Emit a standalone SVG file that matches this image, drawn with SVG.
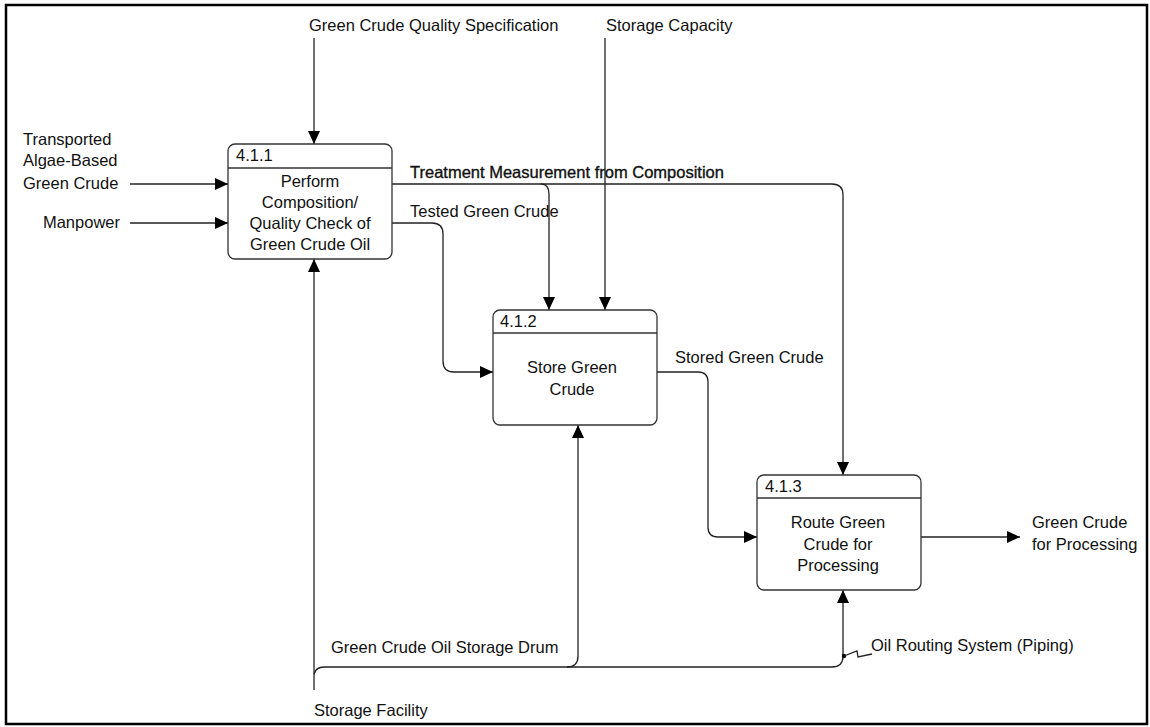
<svg xmlns="http://www.w3.org/2000/svg" width="1150" height="727" viewBox="0 0 1150 727">
<style>
text{font-family:"Liberation Sans",Arial,sans-serif;font-size:16.5px;fill:#111}
.c{text-anchor:middle}
.bd{stroke:#111;stroke-width:0.35}
.box{fill:#fff;stroke:#333;stroke-width:1.3}
.hdr{stroke:#333;stroke-width:1.3}
.ln{fill:none;stroke:#222;stroke-width:1.3}
</style>
<defs>
<marker id="ah" markerWidth="13" markerHeight="12" refX="13" refY="6" orient="auto" markerUnits="userSpaceOnUse">
<path d="M0,0 L13,6 L0,12 Z" fill="#000"/>
</marker>
</defs>
<rect x="6" y="5" width="1141" height="719" fill="#fff" stroke="#000" stroke-width="2.5"/>

<g id="connectors">
<path class="ln" d="M314,38 V144" marker-end="url(#ah)"/>
<path class="ln" d="M605,38 V310" marker-end="url(#ah)"/>
<path class="ln" d="M130,184 H228" marker-end="url(#ah)"/>
<path class="ln" d="M130,223 H228" marker-end="url(#ah)"/>
<path class="ln" d="M392,184 H832 Q843,184 843,195 V475" marker-end="url(#ah)"/>
<path class="ln" d="M541,184 Q549,184 549,194 V310" marker-end="url(#ah)"/>
<path class="ln" d="M392,223 H432 Q443,223 443,234 V361 Q443,372 454,372 H493" marker-end="url(#ah)"/>
<path class="ln" d="M657,372 H698 Q708,372 708,382 V527 Q708,537 718,537 H757" marker-end="url(#ah)"/>
<path class="ln" d="M921,537 H1020" marker-end="url(#ah)"/>
<path class="ln" d="M314,690 V259" marker-end="url(#ah)"/>
<path class="ln" d="M314,674 Q316,667 324,667 H832 Q843,667 843,656 V590" marker-end="url(#ah)"/>
<path class="ln" d="M567,667 Q578,667 578,656 V425" marker-end="url(#ah)"/>
<circle cx="844" cy="656" r="2.2" fill="#000"/>
<path class="ln" d="M844,656 L857,651 L858,657 L872,654"/>
</g>

<g id="node-411">
<rect class="box" x="228" y="144" width="164" height="115" rx="7"/>
<line class="hdr" x1="228" y1="168" x2="392" y2="168"/>
<text x="236" y="161">4.1.1</text>
<text class="c" x="310" y="187">Perform</text>
<text class="c" x="310" y="208">Composition/</text>
<text class="c" x="310" y="229">Quality Check of</text>
<text class="c" x="310" y="250">Green Crude Oil</text>
</g>

<g id="node-412">
<rect class="box" x="493" y="310" width="164" height="115" rx="7"/>
<line class="hdr" x1="493" y1="333" x2="657" y2="333"/>
<text x="500" y="327">4.1.2</text>
<text class="c" x="572" y="373">Store Green</text>
<text class="c" x="572" y="395">Crude</text>
</g>

<g id="node-413">
<rect class="box" x="757" y="475" width="164" height="115" rx="7"/>
<line class="hdr" x1="757" y1="498" x2="921" y2="498"/>
<text x="765" y="492">4.1.3</text>
<text class="c" x="838" y="528">Route Green</text>
<text class="c" x="838" y="550">Crude for</text>
<text class="c" x="838" y="571">Processing</text>
</g>

<g id="labels">
<text x="309" y="31">Green Crude Quality Specification</text>
<text x="606" y="31">Storage Capacity</text>
<text x="23" y="145">Transported</text>
<text x="23" y="166">Algae-Based</text>
<text x="23" y="189">Green Crude</text>
<text x="120" y="228" text-anchor="end">Manpower</text>
<text class="bd" x="410" y="178">Treatment Measurement from Composition</text>
<text x="410" y="217">Tested Green Crude</text>
<text x="675" y="363">Stored Green Crude</text>
<text x="1032" y="528">Green Crude</text>
<text x="1032" y="550">for Processing</text>
<text x="331" y="653">Green Crude Oil Storage Drum</text>
<text x="314" y="716">Storage Facility</text>
<text x="871" y="651">Oil Routing System (Piping)</text>
</g>
</svg>
